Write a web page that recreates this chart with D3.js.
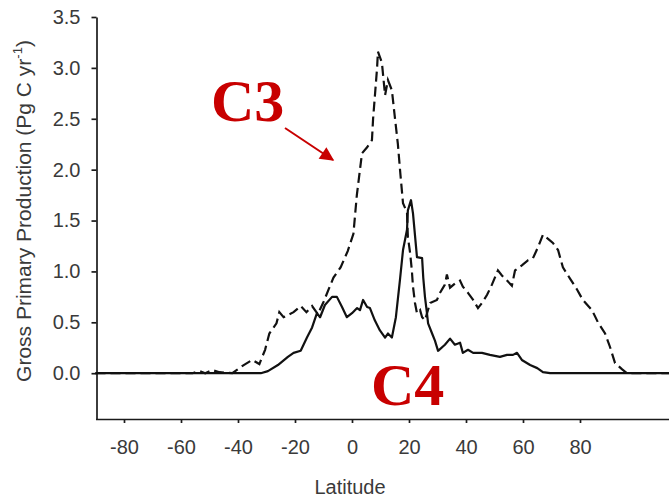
<!DOCTYPE html>
<html>
<head>
<meta charset="utf-8">
<script src="https://cdn.jsdelivr.net/npm/d3@7"></script>
<style>
  html, body { margin: 0; padding: 0; background: #fff; }
  svg { display: block; }
  .axis text { font-family: "Liberation Sans", Arial, sans-serif; font-size: 20px; fill: #3a3a3a; }
  .axis path, .axis line { stroke: #1a1a1a; stroke-width: 1.7; }
</style>
</head>
<body>
<div id="chart"></div>
<script>
// latitude (deg) and GPP (Pg C / yr)
const c3Lat = [-90, -56, -53.5, -51.5, -49, -46.5, -42, -38, -35, -32.5, -30.5, -29, -26.5, -25.5, -24, -20.5,
  -18, -16, -14, -12, -10, -6.5, -4, -1.5, 0.5, 1.7, 3.5, 5.3, 7, 7.4, 8.8, 9.1, 10.5, 11.6, 12.6, 14, 15.1,
  16.1, 17, 17.9, 19.3, 19.6, 20.4, 21, 21.4, 22.1, 22.8, 23.9, 24.6, 25.6, 27.4, 29.8, 30.9, 32.6, 33.3, 34.4,
  36.1, 37.9, 38.9, 40.7, 42.5, 44.2, 45.6, 47.4, 49.1, 51.2, 52.6, 54.4, 56.1, 57.2, 59.6, 61.8, 63.5, 65.3,
  67, 68.8, 70.5, 72.3, 74, 76.5, 79, 81, 84.2, 86.3, 88.8, 90.5, 92.3, 94.7, 96.5, 112];
const c3Gpp = [0, 0, 0.02, 0, 0.03, 0.01, 0, 0.08, 0.13, 0.09, 0.23, 0.39, 0.49, 0.6, 0.55, 0.6,
  0.66, 0.6, 0.66, 0.58, 0.7, 0.94, 1.04, 1.2, 1.37, 1.75, 2.16, 2.22, 2.29, 2.5, 3.0, 3.16, 3.05, 2.73, 2.88, 2.78, 2.5,
  2.25, 1.95, 1.67, 1.58, 1.34, 1.18, 1.01, 0.85, 0.69, 0.59, 0.62, 0.55, 0.52, 0.69, 0.72, 0.79, 0.87, 0.97, 0.84,
  0.88, 0.91, 0.85, 0.79, 0.72, 0.64, 0.69, 0.77, 0.87, 1.01, 0.96, 0.91, 0.86, 1.01, 1.06, 1.11, 1.13, 1.24,
  1.36, 1.32, 1.28, 1.21, 1.04, 0.93, 0.82, 0.72, 0.62, 0.5, 0.39, 0.26, 0.1, 0.04, 0, 0];

const c4Lat = [-90, -32, -29.5, -26, -22.5, -20.5, -18, -15.8, -14, -12.3, -11.2, -9.5, -7, -5.3, -3.5, -1.8, 0,
  1.8, 2.8, 3.9, 5.3, 6.3, 8, 9.8, 11.6, 12.6, 14, 15.4, 16.8, 17.9, 19.3, 19.6, 20.7, 21.4, 22.8, 24.6, 25,
  25.6, 26.3, 26.7, 28.1, 29.1, 30.2, 32.6, 34.4, 36.1, 37.9, 38.9, 40.7, 42.5, 45.6, 48.4, 51.9, 54.4, 56.5,
  57.9, 59.6, 62.5, 65, 67, 69.5, 112];
const c4Gpp = [0, 0, 0.02, 0.08, 0.16, 0.2, 0.22, 0.35, 0.45, 0.59, 0.55, 0.67, 0.75, 0.75, 0.65, 0.55, 0.59,
  0.64, 0.62, 0.72, 0.65, 0.64, 0.52, 0.42, 0.35, 0.39, 0.35, 0.55, 0.91, 1.21, 1.41, 1.6, 1.7, 1.57, 1.14, 1.13, 0.94,
  0.75, 0.59, 0.49, 0.39, 0.32, 0.22, 0.28, 0.34, 0.28, 0.3, 0.2, 0.23, 0.2, 0.2, 0.18, 0.16, 0.18, 0.18,
  0.2, 0.13, 0.08, 0.05, 0.01, 0, 0];

const xTicks = [-80, -60, -40, -20, 0, 20, 40, 60, 80];
const yTicks = [0, 0.5, 1, 1.5, 2, 2.5, 3, 3.5];

const width = 669, height = 499;

const svg = d3.select('#chart').append('svg')
  .attr('width', width)
  .attr('height', height);

const x = d3.scaleLinear().domain([-90, 112]).range([95.5, 671.2]);
const y = d3.scaleLinear().domain([-0.45, 3.5]).range([419, 17]);

// axes
svg.append('g')
  .attr('class', 'axis')
  .attr('transform', 'translate(96.5,0)')
  .call(d3.axisLeft(y).tickValues(yTicks).tickFormat(d3.format('.1f')).tickSize(5).tickSizeOuter(0).tickPadding(11));

svg.append('g')
  .attr('class', 'axis')
  .attr('transform', 'translate(0,419)')
  .call(d3.axisBottom(x).tickValues(xTicks).tickFormat(d => d).tickSize(4).tickSizeOuter(0).tickPadding(17));

// axis titles
svg.append('text')
  .attr('transform', 'translate(31,211) rotate(-90)')
  .attr('text-anchor', 'middle')
  .style('font-family', '"Liberation Sans", Arial, sans-serif')
  .style('font-size', '21px')
  .style('fill', '#3a3a3a')
  .html('Gross Primary Production (Pg C yr<tspan dy="-9" font-size="13px">-1</tspan><tspan dy="9">)</tspan>');

svg.append('text')
  .attr('x', 350)
  .attr('y', 494)
  .attr('text-anchor', 'middle')
  .style('font-family', '"Liberation Sans", Arial, sans-serif')
  .style('font-size', '20px')
  .style('fill', '#3a3a3a')
  .text('Latitude');

// curves
const line = d3.line().x(d => x(d[0])).y(d => y(d[1]));

svg.append('path')
  .datum(d3.zip(c4Lat, c4Gpp))
  .attr('fill', 'none')
  .attr('stroke', '#111')
  .attr('stroke-width', 2.2)
  .attr('stroke-linejoin', 'round')
  .attr('d', line);

svg.append('path')
  .datum(d3.zip(c3Lat, c3Gpp))
  .attr('fill', 'none')
  .attr('stroke', '#111')
  .attr('stroke-width', 2.2)
  .attr('stroke-dasharray', '10,5')
  .attr('d', line);

// annotations
const red = '#c80000';
svg.append('defs').append('marker')
  .attr('id', 'arrow')
  .attr('viewBox', '0 0 10 10')
  .attr('refX', 9).attr('refY', 5)
  .attr('markerWidth', 8).attr('markerHeight', 7)
  .attr('markerUnits', 'strokeWidth')
  .attr('orient', 'auto')
  .append('path')
  .attr('d', 'M0,0 L10,5 L0,10 Z')
  .attr('fill', red);

svg.append('line')
  .attr('x1', 285).attr('y1', 128)
  .attr('x2', 333).attr('y2', 160)
  .attr('stroke', red)
  .attr('stroke-width', 2)
  .attr('marker-end', 'url(#arrow)');

svg.append('text')
  .attr('x', 211).attr('y', 121)
  .style('font-family', '"Liberation Serif", "Times New Roman", serif')
  .style('font-weight', 'bold')
  .style('font-size', '60px')
  .style('fill', red)
  .text('C3');

svg.append('text')
  .attr('x', 371).attr('y', 405)
  .style('font-family', '"Liberation Serif", "Times New Roman", serif')
  .style('font-weight', 'bold')
  .style('font-size', '60px')
  .style('fill', red)
  .text('C4');
</script>
</body>
</html>
